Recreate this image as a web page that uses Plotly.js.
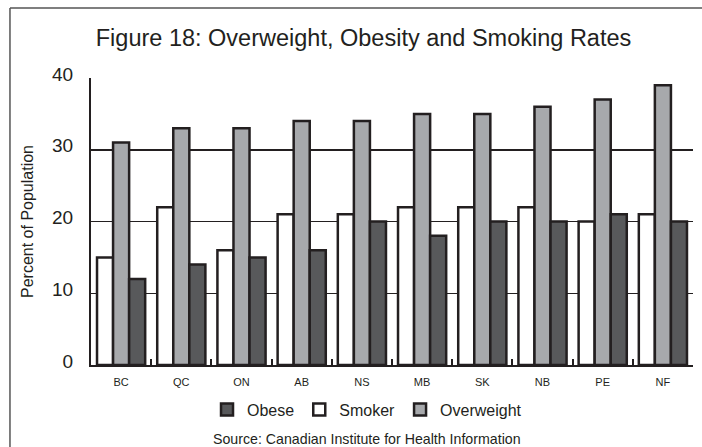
<!DOCTYPE html>
<html>
<head>
<meta charset="utf-8">
<script src="https://cdn.plot.ly/plotly-3.0.1.min.js"></script>
<style>
  html, body { margin: 0; padding: 0; background: #ffffff; overflow: hidden; }
  #chart { width: 702px; height: 447px; }
</style>
</head>
<body>
<div id="chart"></div>
<script>
// Provinces along the x axis
const provinces = ['BC', 'QC', 'ON', 'AB', 'NS', 'MB', 'SK', 'NB', 'PE', 'NF'];

// Rates in percent of population
const smokerRates     = [15, 22, 16, 21, 21, 22, 22, 22, 20, 21];
const overweightRates = [31, 33, 33, 34, 34, 35, 35, 36, 37, 39];
const obeseRates      = [12, 14, 15, 16, 20, 18, 20, 20, 21, 20];

const yTicks = [0, 10, 20, 30, 40];

const ink = '#231f20';
const font = 'Liberation Sans, Arial, sans-serif';

function barTrace(name, values, color, rank) {
  return {
    type: 'bar',
    name: name,
    x: provinces,
    y: values,
    legendrank: rank,
    marker: { color: color, line: { color: ink, width: 2.5 } },
    hoverinfo: 'x+y+name'
  };
}

const data = [
  barTrace('Smoker', smokerRates, '#ffffff', 2),
  barTrace('Overweight', overweightRates, '#a7a9ac', 3),
  barTrace('Obese', obeseRates, '#58595b', 1)
];

// Outer frame: the figure border runs off the right and bottom edges,
// so only its left and top sides are drawn.
const frameLine = { color: '#555555', width: 1.5 };
const frameShapes = [
  { type: 'line', xref: 'paper', yref: 'paper', x0: -0.1346, x1: -0.1346, y0: -0.4, y1: 1.2439, line: frameLine, layer: 'below' },
  { type: 'line', xref: 'paper', yref: 'paper', x0: -0.1346, x1: 1.2, y0: 1.2439, y1: 1.2439, line: frameLine, layer: 'below' }
];

const layout = {
  width: 702,
  height: 447,
  margin: { l: 91, r: 9, t: 78, b: 82 },
  paper_bgcolor: '#ffffff',
  plot_bgcolor: '#ffffff',
  font: { family: font, color: ink },
  barmode: 'group',
  bargap: 0.2,
  bargroupgap: 0,
  title: {
    text: 'Figure 18: Overweight, Obesity and Smoking Rates',
    font: { family: font, size: 23.5, color: ink },
    xref: 'paper', x: 0.4527, xanchor: 'center',
    yref: 'container', y: 0.915, yanchor: 'middle'
  },
  xaxis: {
    type: 'category',
    showgrid: false,
    showline: true, linecolor: ink, linewidth: 2,
    ticks: 'inside', tickson: 'boundaries', ticklen: 6, tickwidth: 2, tickcolor: ink,
    tickfont: { family: font, size: 11, color: ink },
    ticklabelstandoff: 6,
    fixedrange: true
  },
  yaxis: {
    range: [0, 40],
    tickvals: yTicks,
    showgrid: true, gridcolor: ink, gridwidth: 1.5,
    zeroline: false,
    showline: true, linecolor: ink, linewidth: 2,
    ticks: '',
    tickfont: { family: font, size: 19, color: ink },
    ticklabelstandoff: 12,
    ticklabelshift: -4,
    title: {
      text: 'Percent of Population',
      font: { family: font, size: 16, color: ink },
      standoff: 14
    },
    automargin: false,
    fixedrange: true
  },
  showlegend: true,
  legend: {
    orientation: 'h',
    x: 0.4585, xanchor: 'center',
    y: -0.155, yanchor: 'middle',
    font: { family: font, size: 16, color: ink },
    bgcolor: 'rgba(0,0,0,0)'
  },
  annotations: [{
    text: 'Source: Canadian Institute for Health Information',
    xref: 'paper', yref: 'paper',
    x: 0.4585, y: -0.258, xanchor: 'center', yanchor: 'middle',
    showarrow: false,
    font: { family: font, size: 14.2, color: ink }
  }],
  shapes: frameShapes
};

Plotly.newPlot('chart', data, layout, { displayModeBar: false, staticPlot: true });
</script>
</body>
</html>
